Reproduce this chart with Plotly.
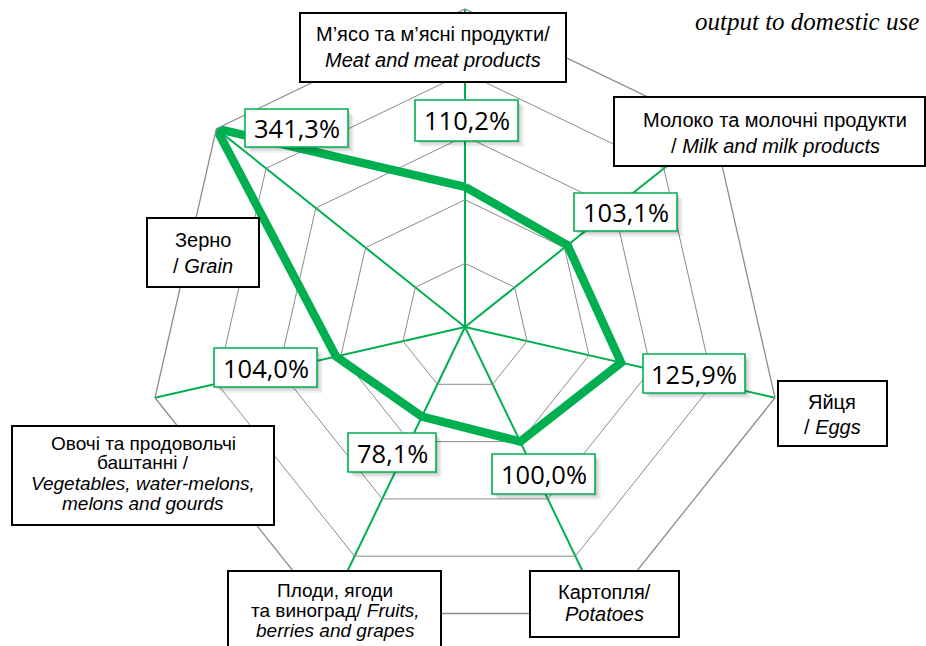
import plotly.graph_objects as go

# ---------------- data ----------------
categories_en = [
    "Meat and meat products",
    "Milk and milk products",
    "Eggs",
    "Potatoes",
    "Fruits, berries and grapes",
    "Vegetables, water-melons, melons and gourds",
    "Grain",
]
values_pct = [110.2, 103.1, 125.9, 100.0, 78.1, 104.0, 341.3]
radial_ticks = [50, 100, 150, 200]
radial_max = 250

category_lines = [
    ["М’ясо та м’ясні продукти/", "<i>Meat and meat products</i>"],
    ["Молоко та молочні продукти", "/ <i>Milk and milk products</i>"],
    ["Яйця", "/ <i>Eggs</i>"],
    ["Картопля/", "<i>Potatoes</i>"],
    ["Плоди, ягоди", "та виноград/ <i>Fruits,</i>", "<i>berries and grapes</i>"],
    ["Овочі та продовольчі", "баштанні /", "<i>Vegetables, water-melons,</i>", "<i>melons and gourds</i>"],
    ["Зерно", "/ <i>Grain</i>"],
]
title_text = "<i>output to domestic use</i>"

# ---------------- layout / style constants ----------------
W, H = 926, 646
GREEN = "#00B050"
GRID_GRAY = "#8c8c8c"
CX, CY, R = 465, 327, 318

def px(x):
    return x / W

def py(y):
    return 1 - y / H

# category label boxes (pixel boxes) and text line centres
cat_boxes = [
    (300, 13, 566, 82),
    (614, 97, 925, 166),
    (778, 381, 887, 446),
    (530, 571, 679, 637),
    (228, 571, 441, 652),
    (12, 426, 274, 525),
    (147, 218, 259, 287),
]
cat_text_x = [433, 775, 832, 604, 335, 143, 203]
cat_text_y = [
    [34, 60],
    [120, 146],
    [402, 427],
    [592, 614],
    [590, 610, 630],
    [443, 463, 483, 503],
    [240, 266],
]
cat_font_size = [20, 20, 20, 20, 19, 19, 20]

# data label boxes (pixel boxes)
val_boxes = [
    (415, 100, 518, 141),
    (574, 193, 677, 231),
    (643, 354, 745, 393),
    (492, 454, 595, 494),
    (348, 433, 436, 472),
    (214, 348, 317, 387),
    (245, 109, 348, 147),
]

r_plot = [min(v, radial_max) for v in values_pct]

fig = go.Figure()
fig.add_trace(go.Scatterpolar(
    r=r_plot + [r_plot[0]],
    theta=categories_en + [categories_en[0]],
    mode="lines",
    line=dict(color=GREEN, width=8.5),
    hoverinfo="skip",
    showlegend=False,
))

shapes = []
annotations = []

# data labels with soft shadow
for v, (x0, y0, x1, y1) in zip(values_pct, val_boxes):
    for off, alpha in [(6, 0.05), (4, 0.08), (2, 0.10)]:
        shapes.append(dict(type="rect", xref="paper", yref="paper",
                           x0=px(x0 + off), x1=px(x1 + off), y0=py(y0 + off), y1=py(y1 + off),
                           fillcolor=f"rgba(0,0,0,{alpha})", line=dict(width=0), layer="above"))
    shapes.append(dict(type="rect", xref="paper", yref="paper",
                       x0=px(x0), x1=px(x1), y0=py(y0), y1=py(y1),
                       fillcolor="white", line=dict(color=GREEN, width=1.6), layer="above"))
    label = f"{v:.1f}".replace(".", ",") + "%"
    annotations.append(dict(text=label, xref="paper", yref="paper",
                            x=px((x0 + x1) / 2), y=py((y0 + y1) / 2),
                            xanchor="center", yanchor="middle", showarrow=False,
                            font=dict(family="Open Sans", size=25.5, color="black")))

# category boxes
for lines, (x0, y0, x1, y1), tx, tys, fs in zip(category_lines, cat_boxes, cat_text_x,
                                                cat_text_y, cat_font_size):
    shapes.append(dict(type="rect", xref="paper", yref="paper",
                       x0=px(x0), x1=px(x1), y0=py(y0), y1=py(y1),
                       fillcolor="white", line=dict(color="black", width=2), layer="above"))
    for txt, ty in zip(lines, tys):
        annotations.append(dict(text=txt, xref="paper", yref="paper",
                                x=px(tx), y=py(ty), xanchor="center", yanchor="middle",
                                showarrow=False,
                                font=dict(family="Liberation Sans, Arial", size=fs, color="black")))

annotations.append(dict(text=title_text, xref="paper", yref="paper",
                        x=px(693), y=py(21), xanchor="left", yanchor="middle", showarrow=False,
                        font=dict(family="Liberation Serif, Times New Roman", size=25, color="black")))

fig.update_layout(
    width=W, height=H,
    margin=dict(l=0, r=0, t=0, b=0),
    paper_bgcolor="white",
    showlegend=False,
    polar=dict(
        domain=dict(x=[px(CX - R), px(CX + R)], y=[max(0, py(CY + R)), py(CY - R)]),
        gridshape="linear",
        bgcolor="white",
        angularaxis=dict(
            rotation=90, direction="clockwise", type="category",
            showticklabels=False, ticks="",
            showline=True, linecolor=GRID_GRAY, linewidth=1.3,
            showgrid=True, gridcolor=GREEN, gridwidth=1.6,
        ),
        radialaxis=dict(
            range=[0, radial_max], tickvals=radial_ticks,
            showticklabels=False, ticks="", showline=False,
            showgrid=True, gridcolor=GRID_GRAY, gridwidth=1.3,
        ),
    ),
    shapes=shapes,
    annotations=annotations,
)

fig.write_html("out.html",
               config={"displayModeBar": False},
               post_script="document.body.style.margin='0';document.body.style.overflow='hidden';")
